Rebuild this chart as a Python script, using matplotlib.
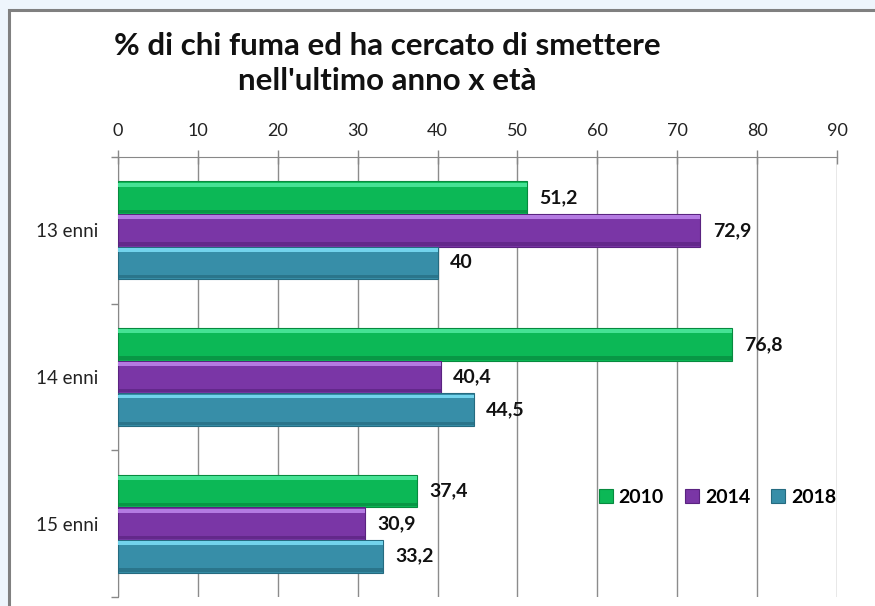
import matplotlib
matplotlib.use("Agg")
import matplotlib.pyplot as plt
from matplotlib.patches import Rectangle
import numpy as np

plt.rcParams['font.family'] = ['Lato', 'DejaVu Sans']

categories = ["13 enni", "14 enni", "15 enni"]
series_names = ["2010", "2014", "2018"]
values_2010 = [51.2, 76.8, 37.4]
values_2014 = [72.9, 40.4, 30.9]
values_2018 = [40.0, 44.5, 33.2]
labels_2010 = ["51,2", "76,8", "37,4"]
labels_2014 = ["72,9", "40,4", "30,9"]
labels_2018 = ["40", "44,5", "33,2"]
x_ticks = [0, 10, 20, 30, 40, 50, 60, 70, 80, 90]

series = [values_2010, values_2014, values_2018]
series_labels = [labels_2010, labels_2014, labels_2018]
colors = ["#0cb856", "#7a36a6", "#378ea8"]
light = ["#45e294", "#b47ae2", "#72d3ec"]
dark = ["#078a3f", "#5a2380", "#256b80"]

W, H = 875, 606
fig = plt.figure(figsize=(W / 100, H / 100), dpi=100)
fig.patch.set_facecolor("#eef5fc")

# chart frame (background axes)
bg = fig.add_axes([0, 0, 1, 1], zorder=-10)
bg.set_axis_off()
bg.set_xlim(0, W)
bg.set_ylim(H, 0)
bg.add_patch(Rectangle((9, 10), W + 20, H + 20, facecolor="white", edgecolor="#808080",
                       linewidth=2.2))

ax = fig.add_axes([118 / W, 1 - 597 / H, (837 - 118) / W, (597 - 157) / H], zorder=1)
ax.set_facecolor("none")

n = len(categories)
y = np.arange(n)
bh = 0.222
offsets = [-bh, 0, bh]

for i, (vals, labs) in enumerate(zip(series, series_labels)):
    yy = y + offsets[i]
    ax.barh(yy, vals, height=bh, color=colors[i], edgecolor=dark[i], linewidth=0.8,
            zorder=3, label=series_names[i])
    # bevel highlight (top) and shade (bottom)
    ax.barh(yy - bh * 0.40, vals, height=bh * 0.12, color=light[i], linewidth=0, zorder=4)
    ax.barh(yy + bh * 0.42, vals, height=bh * 0.10, color=dark[i], linewidth=0, zorder=4, alpha=0.7)
    for v, t, yc in zip(vals, labs, yy):
        ax.annotate(t, (v, yc), xytext=(9, 0), textcoords="offset points",
                    ha="left", va="center", fontsize=14, fontweight="bold", color="#111111")

ax.set_xlim(0, 90)
ax.set_ylim(n - 0.5, -0.5)
ax.xaxis.tick_top()
ax.set_xticks(x_ticks)
ax.set_xticklabels([str(t) for t in x_ticks], fontsize=13, color="#222222")
ax.tick_params(axis="x", which="major", direction="inout", length=10, width=1,
               color="#888888", pad=8)
ax.grid(axis="x", color="#8c8c8c", linewidth=1, zorder=0)

ax.set_yticks(y)
ax.set_yticklabels(categories, fontsize=13.5, color="#222222")
ax.set_yticks(np.arange(-0.5, n, 1.0), minor=True)
ax.tick_params(axis="y", which="major", length=0, pad=14)
ax.tick_params(axis="y", which="minor", direction="out", length=5, width=1, color="#888888")

for s in ["right", "bottom"]:
    ax.spines[s].set_visible(False)
ax.spines["left"].set_color("#888888")
ax.spines["top"].set_color("#888888")

fig.text(387 / W, 1 - 46 / H, "% di chi fuma ed ha cercato di smettere", ha="center",
         va="center", fontsize=22.5, fontweight="bold", color="#111111")
fig.text(387 / W, 1 - 81 / H, "nell'ultimo anno x età", ha="center",
         va="center", fontsize=22.5, fontweight="bold", color="#111111")

handles, labels = ax.get_legend_handles_labels()
leg = ax.legend(handles, labels, loc="center", bbox_to_anchor=(0.834, 0.227), ncol=3,
                frameon=False, handlelength=0.7, handleheight=0.7, handletextpad=0.3,
                columnspacing=1.1, prop={"weight": "bold", "size": 14})

fig.savefig("out.png", dpi=100, facecolor=fig.get_facecolor())
